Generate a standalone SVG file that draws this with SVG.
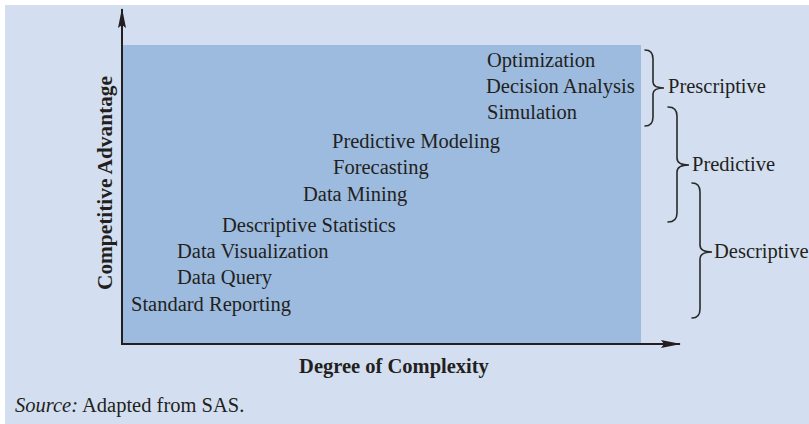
<svg xmlns="http://www.w3.org/2000/svg" width="809" height="424" viewBox="0 0 809 424">
  <style>
    .t { font-family: "Liberation Serif", "Times New Roman", serif; font-size: 20.5px; fill: #231f20; }
    .b { font-weight: bold; }
    .i { font-style: italic; }
    .axis { stroke: #231f20; stroke-width: 2; fill: none; }
    .brace { stroke: #2a2a2a; stroke-width: 1.6; fill: none; stroke-linecap: round; }
  </style>
  <defs>
    <marker id="arrow" viewBox="0 0 20 8" refX="19" refY="4" markerWidth="20" markerHeight="8" markerUnits="userSpaceOnUse" orient="auto">
      <path d="M0,0 L20,4 L0,8 L3,4 Z" fill="#231f20"/>
    </marker>
  </defs>
  <rect x="0" y="0" width="809" height="424" fill="#ffffff"/>
  <rect x="5" y="5" width="804" height="419" fill="#d3dff0"/>
  <rect id="area" x="123" y="45" width="518" height="299" fill="#9cbbdf"/>

  <g id="connectors">
    <line class="axis" x1="122" y1="345" x2="122" y2="9" marker-end="url(#arrow)"/>
    <line class="axis" x1="121" y1="344" x2="680" y2="344" marker-end="url(#arrow)"/>
    <path id="brace-prescriptive" class="brace" d="M645,50 Q653,50 653,59 L653,82 Q653,88 664,88 Q653,88 653,94 L653,117 Q653,126 645,126"/>
    <path id="brace-predictive" class="brace" d="M668,107 Q677,107 677,116 L677,158 Q677,165 689,165 Q677,165 677,172 L677,213 Q677,222 668,222"/>
    <path id="brace-descriptive" class="brace" d="M692,183 Q700,183 700,192 L700,245 Q700,252 712,252 Q700,252 700,259 L700,309 Q700,318 692,318"/>
  </g>

  <g id="y-axis-label"><text class="t b" transform="translate(112,183) rotate(-90)" text-anchor="middle" textLength="214" lengthAdjust="spacingAndGlyphs">Competitive Advantage</text></g>
  <g id="x-axis-label"><text class="t b" x="394" y="373" text-anchor="middle">Degree of Complexity</text></g>

  <g id="optimization"><text class="t" x="487" y="67">Optimization</text></g>
  <g id="decision-analysis"><text class="t" x="486" y="93">Decision Analysis</text></g>
  <g id="simulation"><text class="t" x="487" y="119">Simulation</text></g>
  <g id="predictive-modeling"><text class="t" x="332" y="148">Predictive Modeling</text></g>
  <g id="forecasting"><text class="t" x="333" y="174">Forecasting</text></g>
  <g id="data-mining"><text class="t" x="303" y="201">Data Mining</text></g>
  <g id="descriptive-statistics"><text class="t" x="222" y="232">Descriptive Statistics</text></g>
  <g id="data-visualization"><text class="t" x="177" y="258">Data Visualization</text></g>
  <g id="data-query"><text class="t" x="177" y="284">Data Query</text></g>
  <g id="standard-reporting"><text class="t" x="131" y="311">Standard Reporting</text></g>

  <g id="prescriptive"><text class="t" x="668" y="93">Prescriptive</text></g>
  <g id="predictive"><text class="t" x="692" y="171">Predictive</text></g>
  <g id="descriptive"><text class="t" x="714" y="258">Descriptive</text></g>

  <g id="source"><text class="t" x="15" y="412"><tspan class="i">Source:</tspan> Adapted from SAS.</text></g>
</svg>
